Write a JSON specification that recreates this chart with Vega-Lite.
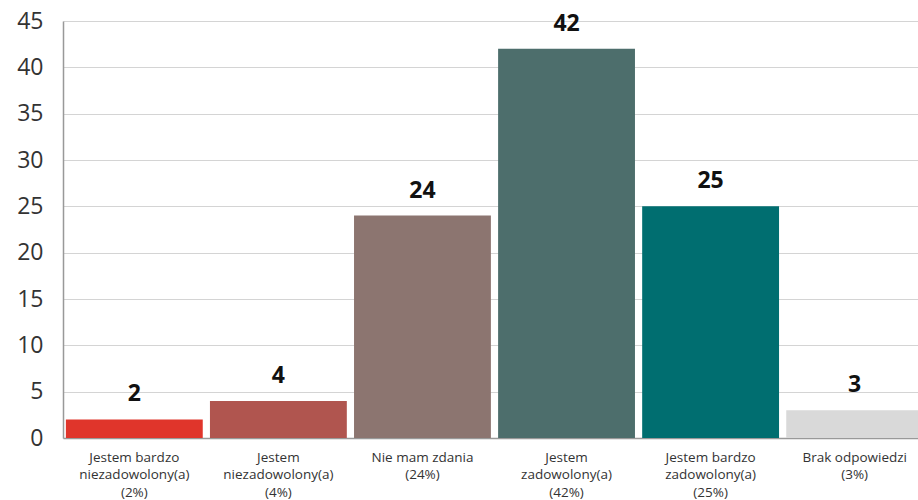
{
  "$schema": "https://vega.github.io/schema/vega-lite/v6.json",
  "width": 863,
  "height": 417,
  "autosize": {"type": "none"},
  "padding": {"left": 63, "top": 21, "right": 0, "bottom": 62},
  "background": "white",
  "config": {"view": {"stroke": null}, "font": "Open Sans"},
  "data": {
    "values": [
      {"cat": "Jestem bardzo|niezadowolony(a)|(2%)", "value": 2, "order": 1},
      {"cat": "Jestem|niezadowolony(a)|(4%)", "value": 4, "order": 2},
      {"cat": "Nie mam zdania|(24%)", "value": 24, "order": 3},
      {"cat": "Jestem|zadowolony(a)|(42%)", "value": 42, "order": 4},
      {"cat": "Jestem bardzo|zadowolony(a)|(25%)", "value": 25, "order": 5},
      {"cat": "Brak odpowiedzi|(3%)", "value": 3, "order": 6}
    ]
  },
  "encoding": {
    "x": {
      "field": "cat",
      "type": "nominal",
      "sort": {"field": "order"},
      "scale": {"paddingInner": 0.05, "paddingOuter": 0.02},
      "axis": {
        "title": null,
        "labelAngle": 0,
        "labelExpr": "split(datum.label, '|')",
        "labelFontSize": 13.5,
        "labelColor": "#333333",
        "labelLineHeight": 17.5,
        "labelPadding": 12,
        "labelBaseline": "top",
        "ticks": false,
        "domainColor": "#999999",
        "domainWidth": 1.5,
        "labelLimit": 200
      }
    },
    "y": {
      "field": "value",
      "type": "quantitative",
      "scale": {"domain": [0, 45]},
      "axis": {
        "title": null,
        "values": [0, 5, 10, 15, 20, 25, 30, 35, 40, 45],
        "labelFontSize": 23,
        "labelColor": "#333333",
        "labelPadding": 20,
        "ticks": false,
        "domainColor": "#999999",
        "domainWidth": 1.5,
        "gridColor": "#d4d4d4",
        "gridWidth": 1
      }
    }
  },
  "layer": [
    {
      "mark": {"type": "bar"},
      "encoding": {
        "color": {
          "field": "cat",
          "type": "nominal",
          "sort": {"field": "order"},
          "scale": {"range": ["#E0352B", "#B0554F", "#8C7570", "#4D6E6C", "#006E70", "#D9D9D9"]},
          "legend": null
        }
      }
    },
    {
      "mark": {"type": "text", "baseline": "bottom", "dy": -13, "fontSize": 23, "fontWeight": "bold", "color": "#111111"},
      "encoding": {"text": {"field": "value", "type": "quantitative"}}
    }
  ]
}
